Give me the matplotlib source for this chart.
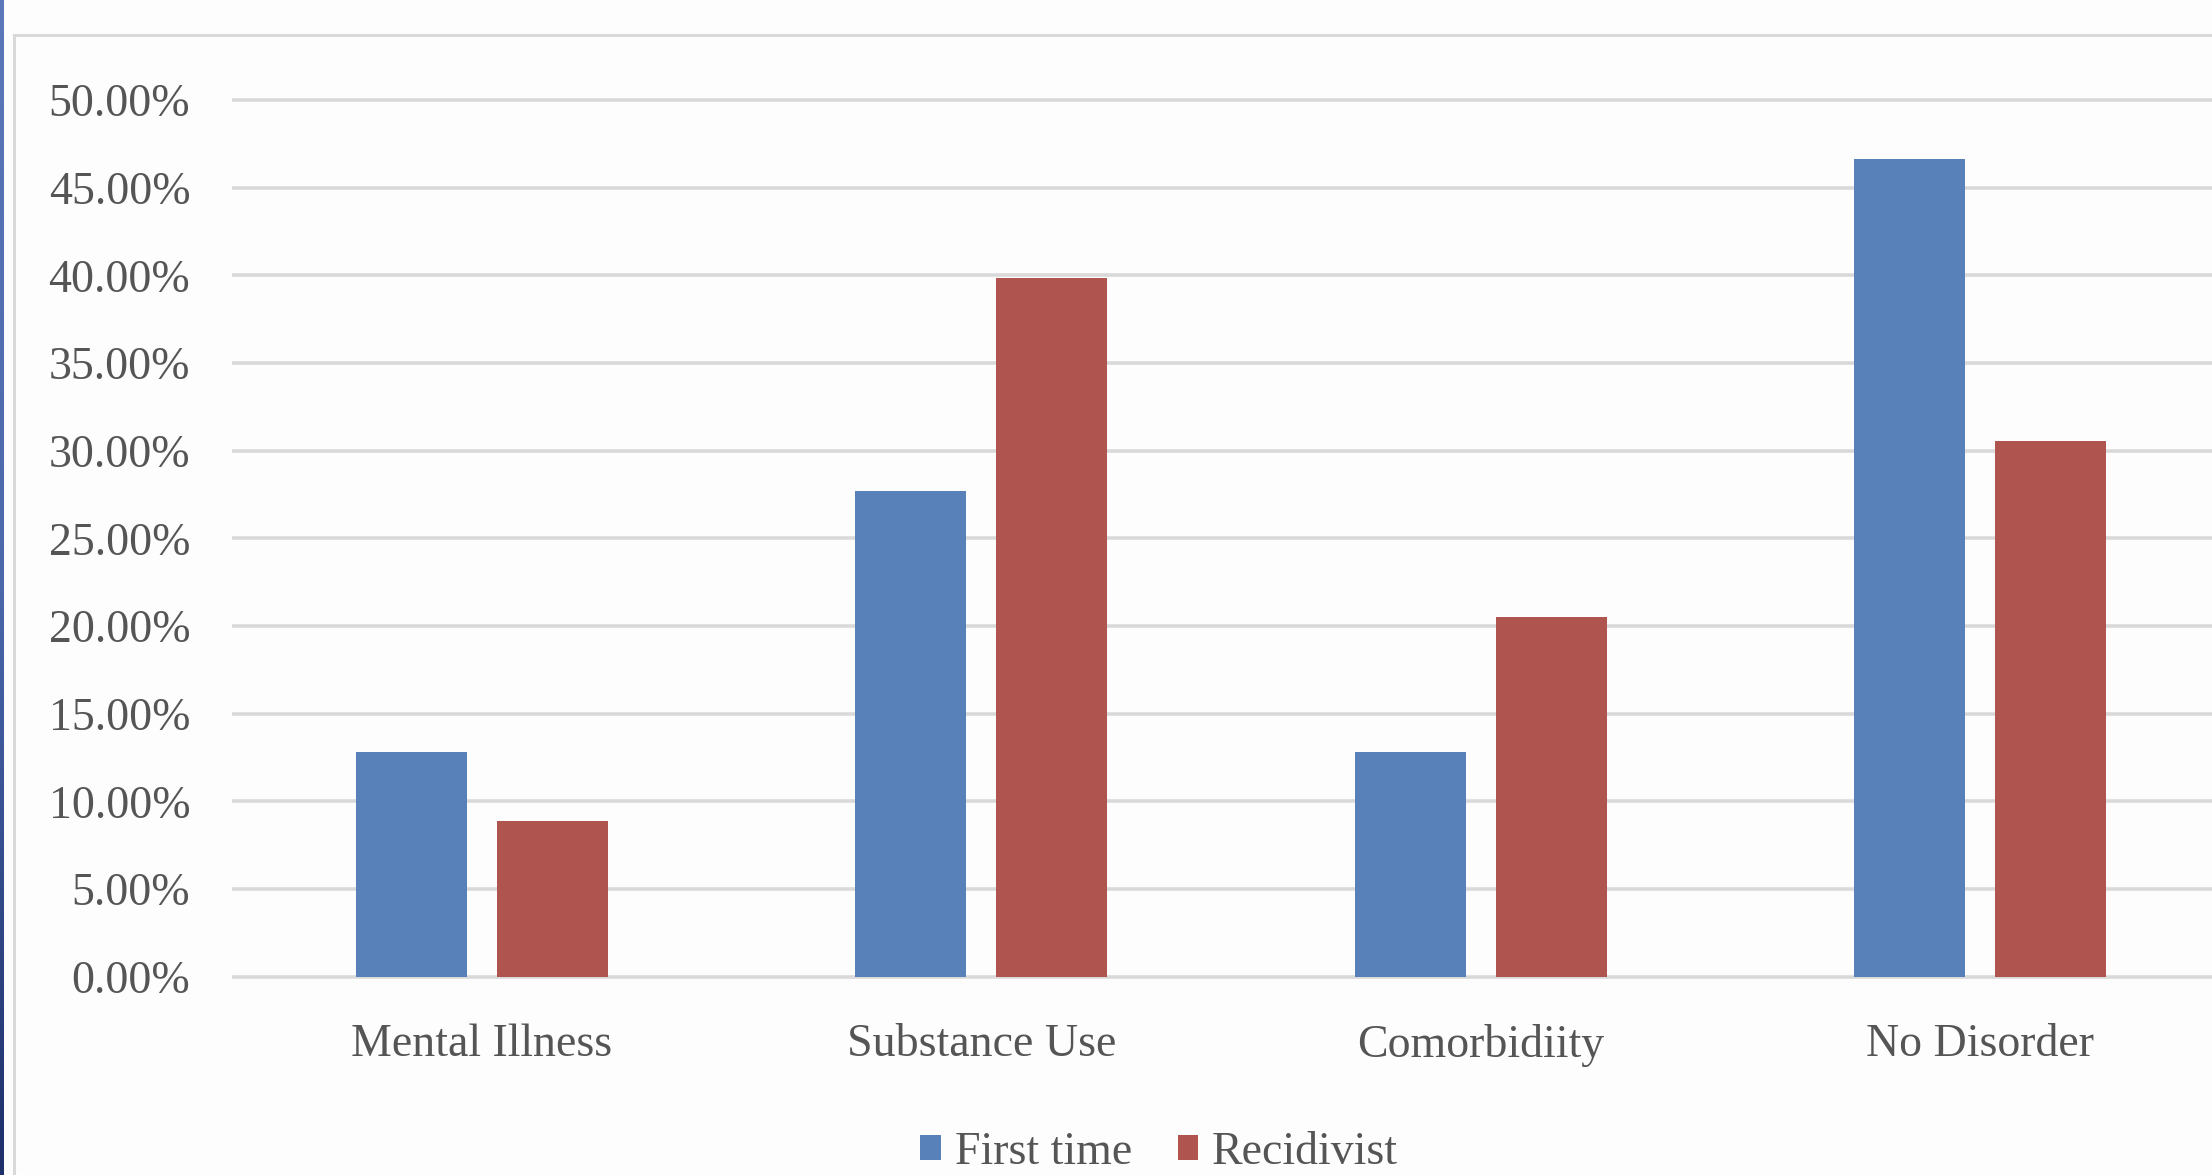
import numpy as np
import matplotlib
matplotlib.use("Agg")
import matplotlib.pyplot as plt
from matplotlib.patches import Rectangle, Patch

# Share of each group by diagnosis category (percent)
categories = ["Mental Illness", "Substance Use", "Comorbidiity", "No Disorder"]
first_time = [12.83, 27.70, 12.83, 46.61]
recidivist = [8.90, 39.85, 20.51, 30.55]
series_names = ["First time", "Recidivist"]
y_ticks = [0, 5, 10, 15, 20, 25, 30, 35, 40, 45, 50]

BLUE = "#5880b9"
RED = "#b0544f"
GRID = "#d9d9d9"
TEXT = "#555555"
FONT = "Liberation Serif"

W, H = 2212, 1175
fig = plt.figure(figsize=(W / 100, H / 100), dpi=100)
fig.patch.set_facecolor("#fdfdfd")

# thin slide-edge strip on the left
strip = fig.add_axes([0, 0, 4 / W, 1])
strip.imshow(np.linspace(0, 1, 256).reshape(-1, 1), aspect="auto",
             cmap=matplotlib.colors.LinearSegmentedColormap.from_list(
                 "edge", ["#5b79b9", "#4a68aa", "#1e2f6a"]),
             extent=[0, 1, 0, 1], origin="upper")
strip.set_axis_off()

# chart frame
fig.patches.append(Rectangle((14 / W, -0.05), 1.2, (H - 35) / H + 0.05,
                             transform=fig.transFigure, fill=False,
                             edgecolor=GRID, linewidth=2.2, zorder=0))

left, right = 232 / W, 2230 / W
bottom, top = (H - 976.7) / H, (H - 100) / H
ax = fig.add_axes([left, bottom, right - left, top - bottom])
ax.set_facecolor("none")

x = np.arange(len(categories))
bw = 0.222
off = 0.141
ax.bar(x - off, first_time, bw, color=BLUE, zorder=3, label=series_names[0])
ax.bar(x + off, recidivist, bw, color=RED, zorder=3, label=series_names[1])

ax.set_xlim(-0.5, len(categories) - 0.5)
ax.set_ylim(0, 50)
ax.hlines(y_ticks, -0.5, len(categories) - 0.5, colors=GRID,
          linewidth=2.6, zorder=1, clip_on=False)

for s in ax.spines.values():
    s.set_visible(False)

ax.set_yticks(y_ticks)
ax.set_yticklabels([f"{v:.2f}%" for v in y_ticks])
ax.set_xticks(x)
ax.set_xticklabels(categories)
ax.tick_params(axis="both", length=0, colors=TEXT, labelsize=33)
ax.tick_params(axis="y", pad=30)
ax.tick_params(axis="x", pad=34)
for lab in ax.get_xticklabels() + ax.get_yticklabels():
    lab.set_fontfamily(FONT)

handles = [Patch(facecolor=BLUE), Patch(facecolor=RED)]
fig.legend(handles, series_names, loc="center", bbox_to_anchor=(0.524, 0.019),
           ncol=2, frameon=False, prop={"family": FONT, "size": 33},
           labelcolor=TEXT, handlelength=0.45, handleheight=0.45,
           handletextpad=0.3, columnspacing=1.0, borderpad=0.2)

fig.savefig("out.png", dpi=100, facecolor=fig.get_facecolor())
